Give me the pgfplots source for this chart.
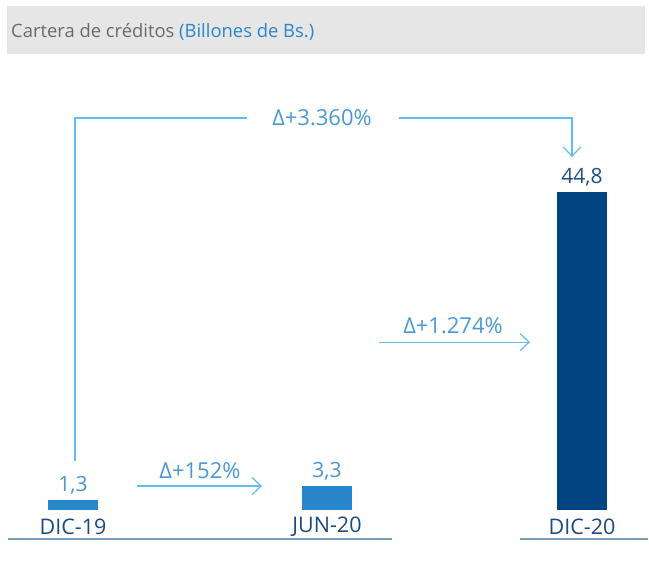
\documentclass[border=0pt]{standalone}
\usepackage{pgfplots}
\pgfplotsset{compat=1.18}
\usepackage{fontspec}
\setmainfont{Open Sans}
\usetikzlibrary{arrows.meta}
\definecolor{titlebg}{HTML}{E6E6E6}
\definecolor{titlegray}{HTML}{6B6B6B}
\definecolor{titleblue}{HTML}{2A86CA}
\definecolor{barblue}{HTML}{2A86CA}
\definecolor{barnavy}{HTML}{004481}
\definecolor{valblue}{HTML}{4A95D3}
\definecolor{valnavy}{HTML}{1F4E85}
\definecolor{catnavy}{HTML}{1D4A7E}
\definecolor{arrowblue}{HTML}{62BDF6}
\definecolor{deltablue}{HTML}{4A98D6}
\definecolor{baselc}{HTML}{7A9CC0}

\begin{document}
\begin{tikzpicture}
% x runs in picture pixels (bar centres at 73, 327, 582), y in billions of Bs.
\begin{axis}[scale only axis, width=649pt, height=576pt,
  xmin=0, xmax=649, ymin=-9.383, ymax=71.89,
  ybar, bar width=50pt, bar shift=0pt,
  axis line style={draw=none}, ytick=\empty,
  xtick={73,327,582}, xticklabels={DIC-19,JUN-20,DIC-20},
  major tick length=0pt,
  xticklabel style={text=catnavy, font=\fontsize{21.5}{25}\selectfont, inner sep=0pt, anchor=center, yshift=49pt},
  nodes near coords,
  /pgf/number format/.cd, use comma, fixed, fixed zerofill, precision=1, assume math mode=true,
  /pgfplots/.cd,
  every node near coord/.append style={font=\fontsize{21}{25}\selectfont, anchor=south, inner sep=0pt, yshift=6pt},
  clip=false]
% title band
\fill[titlebg] (7,71.05) rectangle (645,64.28);
\node[anchor=west, text=titlegray, font=\fontsize{18.4}{21}\selectfont, inner sep=0pt] at (11,67.4)
  {Cartera de créditos \textcolor{titleblue}{(Billones de Bs.)}};

\addplot[fill=barblue, draw=none, every node near coord/.append style={text=valblue}] coordinates {(73,1.3)};
\addplot[fill=barblue, draw=none, every node near coord/.append style={text=valblue}] coordinates {(327,3.3)};
\addplot[fill=barnavy, draw=none, every node near coord/.append style={text=valnavy}] coordinates {(582,44.8)};

% baselines
\draw[baselc, line width=1.6pt] (8,-4.163) -- (392,-4.163);
\draw[baselc, line width=1.6pt] (520,-4.163) -- (648,-4.163);

% change arrows
\draw[arrowblue, line width=1.2pt] (75,6.843) -- (75,55.24) -- (247,55.24);
\draw[arrowblue, line width=1.2pt, -{Straight Barb[length=9pt,width=17pt,line width=1.2pt]}]
  (399,55.24) -- (572,55.24) -- (572,49.74);
\node[text=deltablue, font=\fontsize{22}{26}\selectfont, inner sep=0pt] at (322,55.24) {Δ+3.360\%};
\draw[arrowblue, line width=1.2pt, -{Straight Barb[length=9pt,width=17pt,line width=1.2pt]}]
  (379,23.63) -- (530,23.63);
\node[text=deltablue, font=\fontsize{22}{26}\selectfont, inner sep=0pt] at (453,25.89) {Δ+1.274\%};
\draw[arrowblue, line width=1.2pt, -{Straight Barb[length=9pt,width=17pt,line width=1.2pt]}]
  (137,3.316) -- (262,3.316);
\node[text=deltablue, font=\fontsize{22}{26}\selectfont, inner sep=0pt] at (200,5.432) {Δ+152\%};
\end{axis}
\end{tikzpicture}
\end{document}
